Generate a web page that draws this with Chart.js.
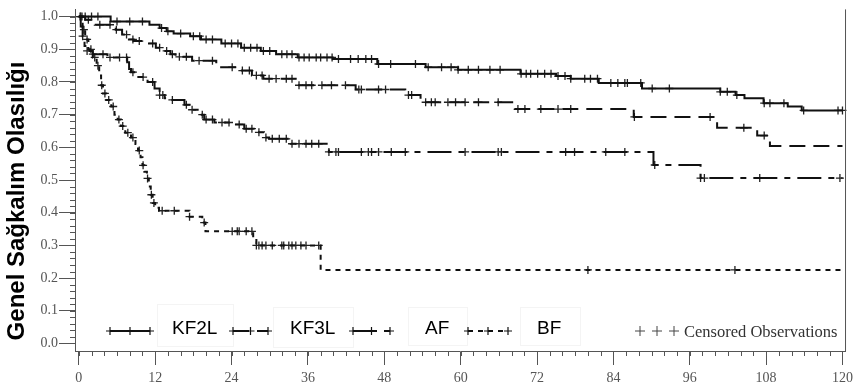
<!DOCTYPE html>
<html>
<head>
<meta charset="utf-8">
<script src="https://cdn.jsdelivr.net/npm/chart.js@4.4.0/dist/chart.umd.min.js"></script>
<style>
html, body { margin: 0; padding: 0; background: #fff; }
</style>
</head>
<body>
<canvas id="myChart" width="858" height="385"></canvas>
<script>
// groups
const groups = ['KF2L', 'KF3L', 'AF', 'BF']
const yTitle = 'Genel Sağkalım Olasılığı'

// survival steps (months, probability after the drop)
const kf2lT = [0, 5.0, 11.1, 12.7, 13.8, 14.9, 17.5, 19.2, 22.4, 25.5, 28.6, 31.0, 34.4, 39.9, 46.9, 54.5, 59.6, 69.4, 75.0, 77.3, 81.7, 88.5, 100.8, 103.2, 104.6, 107.6, 111.4, 113.6, 120]
const kf2lS = [1.0, 0.985, 0.975, 0.965, 0.955, 0.948, 0.94, 0.93, 0.918, 0.905, 0.895, 0.885, 0.875, 0.87, 0.855, 0.845, 0.837, 0.825, 0.818, 0.81, 0.797, 0.78, 0.77, 0.76, 0.75, 0.735, 0.725, 0.713, 0.713]

const kf3lT = [0, 1.0, 2.5, 5.8, 6.8, 7.7, 8.6, 10.3, 12.1, 13.6, 14.4, 15.2, 17.8, 21.6, 25.3, 27.2, 29.0, 34.3, 43.5, 51.3, 53.7, 68.5, 87.2, 100.3, 106.6, 108.6, 120]
const kf3lS = [1.0, 0.99, 0.975, 0.96, 0.945, 0.93, 0.925, 0.918, 0.905, 0.895, 0.885, 0.877, 0.865, 0.845, 0.835, 0.82, 0.81, 0.79, 0.777, 0.76, 0.738, 0.717, 0.693, 0.66, 0.636, 0.604, 0.604]

const afT = [0, 0.3, 0.6, 0.9, 1.2, 2.2, 4.5, 7.6, 7.9, 8.2, 9.0, 10.8, 11.9, 12.7, 13.5, 14.2, 16.6, 17.4, 18.9, 19.7, 21.3, 24.4, 26.0, 27.5, 29.1, 29.9, 33.3, 39.3, 90.3, 97.7, 120]
const afS = [1.0, 0.97, 0.94, 0.91, 0.895, 0.885, 0.875, 0.86, 0.84, 0.83, 0.815, 0.80, 0.78, 0.76, 0.75, 0.745, 0.73, 0.715, 0.70, 0.685, 0.676, 0.67, 0.657, 0.646, 0.63, 0.626, 0.611, 0.586, 0.546, 0.506, 0.506]

const bfT = [0, 0.6, 1.0, 1.5, 2.2, 2.8, 3.2, 3.5, 3.8, 4.3, 5.1, 5.6, 6.1, 6.6, 7.3, 8.2, 8.9, 9.3, 9.7, 10.0, 10.3, 10.7, 11.0, 11.3, 11.6, 12.0, 12.6, 17.4, 19.4, 19.9, 27.4, 27.9, 38.0, 120]
const bfS = [1.0, 0.96, 0.93, 0.9, 0.875, 0.85, 0.82, 0.79, 0.765, 0.745, 0.725, 0.70, 0.685, 0.665, 0.645, 0.63, 0.61, 0.59, 0.57, 0.545, 0.525, 0.505, 0.48, 0.455, 0.43, 0.415, 0.406, 0.388, 0.37, 0.343, 0.325, 0.30, 0.225, 0.225]

// censored observation times
const kf2lC = [1, 2, 3, 6, 8, 10, 13, 14, 16, 18, 19, 20, 21, 23, 24, 25, 26, 27, 28, 29, 30, 31.9, 32.7, 33.5, 34.6, 35.4, 36.2, 37.3, 38.0, 39.0, 39.8, 40.8, 42.7, 43.9, 45.1, 46.0, 47.1, 49.0, 52.9, 54.9, 57.0, 58.5, 59.6, 61.2, 62.8, 64.6, 66.2, 69.5, 70.3, 71.0, 72.1, 73.2, 74.2, 75.3, 76.4, 77.3, 79.5, 80.4, 81.5, 83.6, 84.7, 85.8, 86.2, 88.3, 90.1, 92.8, 100.8, 101.9, 103.4, 107.7, 108.6, 110.8, 113.9, 119.3, 120]
const kf3lC = [0.5, 1.5, 3.3, 4.9, 5.9, 7.5, 8.5, 9.5, 11.6, 12.7, 13.8, 14.7, 15.8, 16.9, 18.9, 21, 24.1, 25.7, 26.8, 27.9, 28.8, 29.9, 31, 32.6, 33.5, 34.6, 35.7, 36.6, 38.2, 39.7, 41.9, 44, 44.4, 47.1, 48.2, 51.8, 52.3, 54.5, 55.4, 56, 58, 59.2, 60.7, 62.8, 65.9, 69, 70.1, 72.6, 75.3, 77.3, 87.3, 99.2, 104.5, 107.7]
const afC = [0.2, 0.6, 1.3, 2.2, 3.8, 4.9, 6.4, 7.5, 8.5, 10.1, 11.6, 12.7, 13.2, 14.7, 16.9, 17.8, 19.4, 20.0, 21.0, 22.5, 23.6, 25.2, 26.3, 27.2, 28.3, 29.4, 30.4, 31.5, 32.6, 33.5, 34.6, 35.7, 36.6, 37.7, 39.3, 40.4, 40.8, 44.4, 45.5, 46.0, 47.1, 49.1, 51.3, 60.7, 65.9, 66.4, 76.5, 77.9, 82.8, 85.8, 90.5, 97.7, 98.3, 107, 119.6]
const bfC = [0.3, 0.8, 1.3, 1.9, 2.5, 3.0, 3.6, 4.1, 4.7, 5.4, 6.3, 6.9, 7.7, 8.5, 9.5, 10.1, 10.8, 11.4, 11.8, 13.1, 15, 17.4, 19.7, 24.1, 24.9, 25.2, 26.3, 27.2, 27.9, 28.3, 28.8, 29.4, 30.4, 31.9, 32.2, 33.0, 33.5, 34.1, 34.9, 35.7, 37.7, 80.0, 103.1]

const xTicks = [0, 12, 24, 36, 48, 60, 72, 84, 96, 108, 120]
const yTicks = [0, 0.1, 0.2, 0.3, 0.4, 0.5, 0.6, 0.7, 0.8, 0.9, 1.0]

const dashes = [[], [16, 8], [24, 7, 6, 7], [5, 5]]
const curves = [[kf2lT, kf2lS], [kf3lT, kf3lS], [afT, afS], [bfT, bfS]]
const censors = [kf2lC, kf3lC, afC, bfC]

function stepAt(T, S, t) {
    let v = S[0]
    for (let i = 0; i < T.length; i++) if (T[i] <= t) v = S[i]
    return v
}

let datasets = []
curves.forEach((c, i) => {
    datasets.push({
        label: groups[i],
        data: c[0].map((t, k) => ({ x: t, y: c[1][k] })),
        showLine: true,
        stepped: 'before',
        borderColor: '#111',
        borderWidth: 2,
        borderDash: dashes[i],
        pointRadius: 0,
        clip: false
    })
})
censors.forEach((ts, i) => {
    datasets.push({
        label: groups[i] + ' censored',
        data: ts.map(t => ({ x: t, y: stepAt(curves[i][0], curves[i][1], t) })),
        showLine: false,
        pointStyle: 'cross',
        pointRadius: 4,
        borderColor: '#222',
        borderWidth: 1.3,
        clip: false
    })
})

const axisDeco = {
    id: 'axisDeco',
    afterDraw(chart) {
        const ctx = chart.ctx
        const a = chart.chartArea
        const xs = chart.scales.x, ys = chart.scales.y
        ctx.save()
        ctx.strokeStyle = '#555'
        ctx.lineWidth = 1
        ctx.beginPath()
        ctx.moveTo(a.right + 0.5, a.top)
        ctx.lineTo(a.right + 0.5, a.bottom)
        for (let v = 0; v <= 1.0001; v += 0.02) {
            const y = Math.round(ys.getPixelForValue(v)) + 0.5
            ctx.moveTo(a.left - 5, y)
            ctx.lineTo(a.left, y)
        }
        for (let v = 0; v <= 120; v += 2) {
            const x = Math.round(xs.getPixelForValue(v)) + 0.5
            ctx.moveTo(x, a.bottom)
            ctx.lineTo(x, a.bottom + 5)
        }
        ctx.stroke()

        // y axis title, placed a bit below the axis middle as in the source
        ctx.save()
        ctx.translate(17, 201)
        ctx.rotate(-Math.PI / 2)
        ctx.fillStyle = '#000'
        ctx.font = 'bold 24px "Liberation Sans", Arial, sans-serif'
        ctx.textAlign = 'center'
        ctx.textBaseline = 'middle'
        ctx.fillText(yTitle, 0, 0)
        ctx.restore()

        // legend row inside the plot
        const ly = 331
        const samples = [[110, 150], [233, 268], [353, 390], [468, 508]]
        const textX = [172, 290, 425, 537]
        const boxes = [[157, 304, 76, 42], [273, 307, 80, 40], [408, 307, 59, 38], [520, 307, 60, 38]]
        ctx.strokeStyle = '#f4f4f4'
        boxes.forEach(b => ctx.strokeRect(b[0] + 0.5, b[1] + 0.5, b[2], b[3]))
        samples.forEach((s, i) => {
            ctx.strokeStyle = '#111'
            ctx.lineWidth = 2
            ctx.setLineDash(dashes[i])
            ctx.beginPath()
            ctx.moveTo(s[0], ly)
            ctx.lineTo(s[1], ly)
            ctx.stroke()
            ctx.setLineDash([])
            ctx.lineWidth = 1.2
            ctx.beginPath()
            ;[s[0], (s[0] + s[1]) / 2, s[1]].forEach(x => {
                ctx.moveTo(x - 4, ly); ctx.lineTo(x + 4, ly)
                ctx.moveTo(x, ly - 4); ctx.lineTo(x, ly + 4)
            })
            ctx.stroke()
            ctx.fillStyle = '#000'
            ctx.font = '19px "Liberation Sans", Arial, sans-serif'
            ctx.textBaseline = 'middle'
            ctx.fillText(groups[i], textX[i], ly - 2)
        })
        ctx.strokeStyle = '#444'
        ctx.lineWidth = 1
        ctx.beginPath()
        ;[640, 657, 674].forEach(x => {
            ctx.moveTo(x - 5, ly); ctx.lineTo(x + 5, ly)
            ctx.moveTo(x, ly - 5); ctx.lineTo(x, ly + 5)
        })
        ctx.stroke()
        ctx.fillStyle = '#333'
        ctx.font = '16.5px "Liberation Serif", "Times New Roman", serif'
        ctx.textBaseline = 'middle'
        ctx.fillText('Censored Observations', 684, ly + 2)
        ctx.restore()
    }
}

const tickFont = { family: '"Liberation Serif", "Times New Roman", serif', size: 14 }

new Chart(document.getElementById('myChart').getContext('2d'), {
    type: 'scatter',
    data: { datasets: datasets },
    plugins: [axisDeco],
    options: {
        responsive: false,
        animation: false,
        layout: { padding: { top: 0, right: 8, bottom: 0, left: 0 } },
        plugins: {
            legend: { display: false },
            tooltip: { enabled: false }
        },
        scales: {
            x: {
                type: 'linear',
                min: -0.6,
                max: 120.4,
                afterBuildTicks: s => { s.ticks = xTicks.map(v => ({ value: v })) },
                afterFit: s => { s.height = 34 },
                grid: { drawOnChartArea: false, tickLength: 14, color: '#555' },
                border: { color: '#555' },
                ticks: { font: tickFont, color: '#555', padding: 5, maxRotation: 0, autoSkip: false }
            },
            y: {
                min: -0.023,
                max: 1.022,
                afterBuildTicks: s => { s.ticks = yTicks.map(v => ({ value: v })) },
                afterFit: s => { s.width = 75 },
                grid: { drawOnChartArea: false, tickLength: 16, color: '#555' },
                border: { color: '#555' },
                ticks: { font: tickFont, color: '#555', padding: 1, callback: v => v.toFixed(1) }
            }
        }
    }
})
</script>
</body>
</html>
